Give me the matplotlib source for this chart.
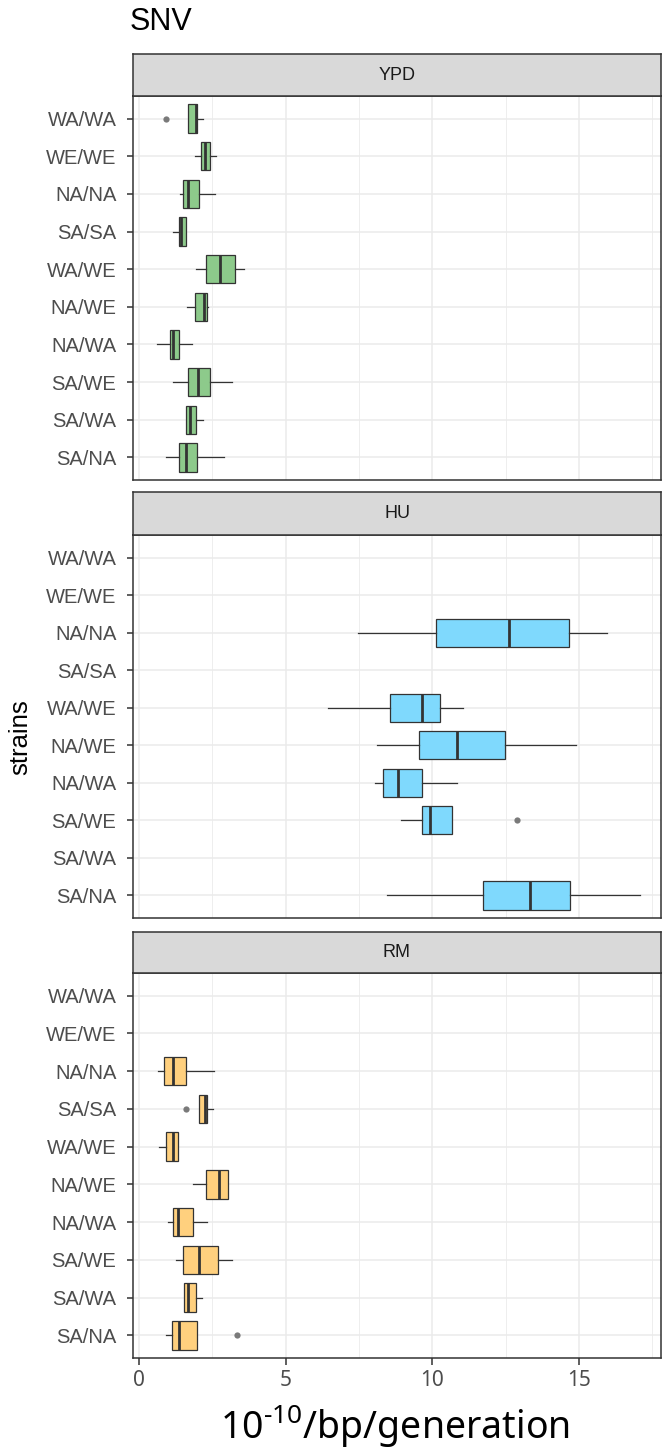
import matplotlib
matplotlib.use("Agg")
import matplotlib.pyplot as plt
from matplotlib.ticker import MultipleLocator

plt.rcParams["font.family"] = ["Liberation Sans", "DejaVu Sans"]
plt.rcParams["mathtext.fontset"] = "custom"
plt.rcParams["mathtext.rm"] = "Noto Sans"

strains = ["WA/WA", "WE/WE", "NA/NA", "SA/SA", "WA/WE",
           "NA/WE", "NA/WA", "SA/WE", "SA/WA", "SA/NA"]
conditions = ["YPD", "HU", "RM"]
colors = {"YPD": "#8dca8b", "HU": "#7fd9fd", "RM": "#ffd07e"}

# per strain: whisker low, q1, median, q3, whisker high (None = no data)
ypd_lo = [1.66, 1.91, 1.40, 1.17, 1.95, 1.64, 0.62, 1.17, 1.60, 0.93]
ypd_q1 = [1.66, 2.11, 1.49, 1.37, 2.28, 1.91, 1.06, 1.69, 1.60, 1.37]
ypd_med = [1.96, 2.27, 1.68, 1.42, 2.76, 2.21, 1.15, 2.02, 1.76, 1.60]
ypd_q3 = [1.99, 2.42, 2.04, 1.61, 3.27, 2.31, 1.37, 2.42, 1.96, 1.99]
ypd_hi = [2.19, 2.62, 2.60, 1.61, 3.59, 2.35, 1.81, 3.16, 2.17, 2.89]
ypd_out = [[0.94], [], [], [], [], [], [], [], [], []]

hu_lo = [None, None, 7.47, None, 6.44, 8.12, 8.04, 8.93, None, 8.47]
hu_q1 = [None, None, 10.12, None, 8.56, 9.56, 8.32, 9.65, None, 11.72]
hu_med = [None, None, 12.61, None, 9.64, 10.86, 8.83, 9.91, None, 13.34]
hu_q3 = [None, None, 14.65, None, 10.27, 12.48, 9.64, 10.66, None, 14.69]
hu_hi = [None, None, 15.97, None, 11.06, 14.91, 10.83, 10.66, None, 17.08]
hu_out = [[], [], [], [], [], [], [], [12.88], [], []]

rm_lo = [None, None, 0.66, 2.06, 0.68, 1.83, 1.01, 1.27, 1.54, 0.92]
rm_q1 = [None, None, 0.87, 2.06, 0.91, 2.28, 1.16, 1.50, 1.54, 1.14]
rm_med = [None, None, 1.15, 2.27, 1.16, 2.74, 1.33, 2.06, 1.69, 1.36]
rm_q3 = [None, None, 1.62, 2.32, 1.35, 3.05, 1.84, 2.70, 1.95, 1.99]
rm_hi = [None, None, 2.57, 2.52, 1.35, 3.05, 2.32, 3.16, 2.16, 1.99]
rm_out = [[], [], [], [1.59], [], [], [], [], [], [3.34]]

data = {
    "YPD": (ypd_lo, ypd_q1, ypd_med, ypd_q3, ypd_hi, ypd_out),
    "HU": (hu_lo, hu_q1, hu_med, hu_q3, hu_hi, hu_out),
    "RM": (rm_lo, rm_q1, rm_med, rm_q3, rm_hi, rm_out),
}

W, H = 662, 1450
fig = plt.figure(figsize=(W / 100, H / 100), dpi=100)

# (strip top, panel top, panel bottom) in pixels
panels = [(54, 96, 480), (492, 535, 918), (932, 973, 1358)]
left, right = 133, 661

dark = "#333333"
for k, (cond, (st, pt, pb)) in enumerate(zip(conditions, panels)):
    ax = fig.add_axes([left / W, 1 - pb / H, (right - left) / W, (pb - pt) / H])
    sax = fig.add_axes([left / W, 1 - pt / H, (right - left) / W, (pt - st) / H])
    sax.set_facecolor("#d9d9d9")
    sax.set_xticks([])
    sax.set_yticks([])
    for s in sax.spines.values():
        s.set_color(dark)
        s.set_linewidth(1.1)
    sax.text(0.5, 0.5, cond, ha="center", va="center", fontsize=13, color="#1a1a1a",
             transform=sax.transAxes)

    lo, q1, med, q3, hi, out = data[cond]
    stats, pos = [], []
    for i, name in enumerate(strains):
        if med[i] is None:
            continue
        stats.append(dict(whislo=lo[i], q1=q1[i], med=med[i], q3=q3[i],
                          whishi=hi[i], fliers=out[i], label=name))
        pos.append(i + 1)
    ax.bxp(stats, positions=pos, vert=False, widths=0.75, patch_artist=True,
           showcaps=False, manage_ticks=False,
           boxprops=dict(facecolor=colors[cond], edgecolor=dark, linewidth=0.9),
           medianprops=dict(color=dark, linewidth=2),
           whiskerprops=dict(color=dark, linewidth=0.9),
           flierprops=dict(marker="o", markersize=4.5, markerfacecolor="#7a7a7a",
                           markeredgecolor="none"))

    ax.set_xlim(-0.2, 17.8)
    ax.set_ylim(10.6, 0.4)
    ax.set_yticks(range(1, len(strains) + 1))
    ax.set_yticklabels(strains, fontsize=14.5, color="#4d4d4d")
    ax.xaxis.set_major_locator(MultipleLocator(5))
    ax.xaxis.set_minor_locator(MultipleLocator(2.5))
    ax.grid(which="major", color="#ebebeb", linewidth=1.1)
    ax.grid(which="minor", axis="x", color="#ebebeb", linewidth=0.6)
    ax.set_axisbelow(True)
    ax.tick_params(axis="y", length=4, width=1.1, color=dark, pad=8)
    ax.tick_params(axis="x", which="minor", length=0)
    if k < 2:
        ax.tick_params(axis="x", which="major", length=0, labelbottom=False)
    else:
        ax.tick_params(axis="x", which="major", length=5, width=1.1, color=dark,
                       labelsize=15, labelcolor="#4d4d4d", pad=4)
        for lab in ax.get_xticklabels():
            lab.set_family("Noto Sans")
    for s in ax.spines.values():
        s.set_color(dark)
        s.set_linewidth(1.1)

fig.text(130 / W, 1 - 22 / H, "SNV", fontsize=22, ha="left", va="center")
fig.text(20 / W, 1 - 737 / H, "strains", fontsize=18.5, rotation=90,
         ha="center", va="center")
fig.text(395 / W, 1 - 1439 / H, "10$^{\\mathregular{\u2010 10}}$/bp/generation",
         fontsize=27, ha="center", va="baseline", family="Noto Sans")

fig.savefig("out.png", dpi=100)
